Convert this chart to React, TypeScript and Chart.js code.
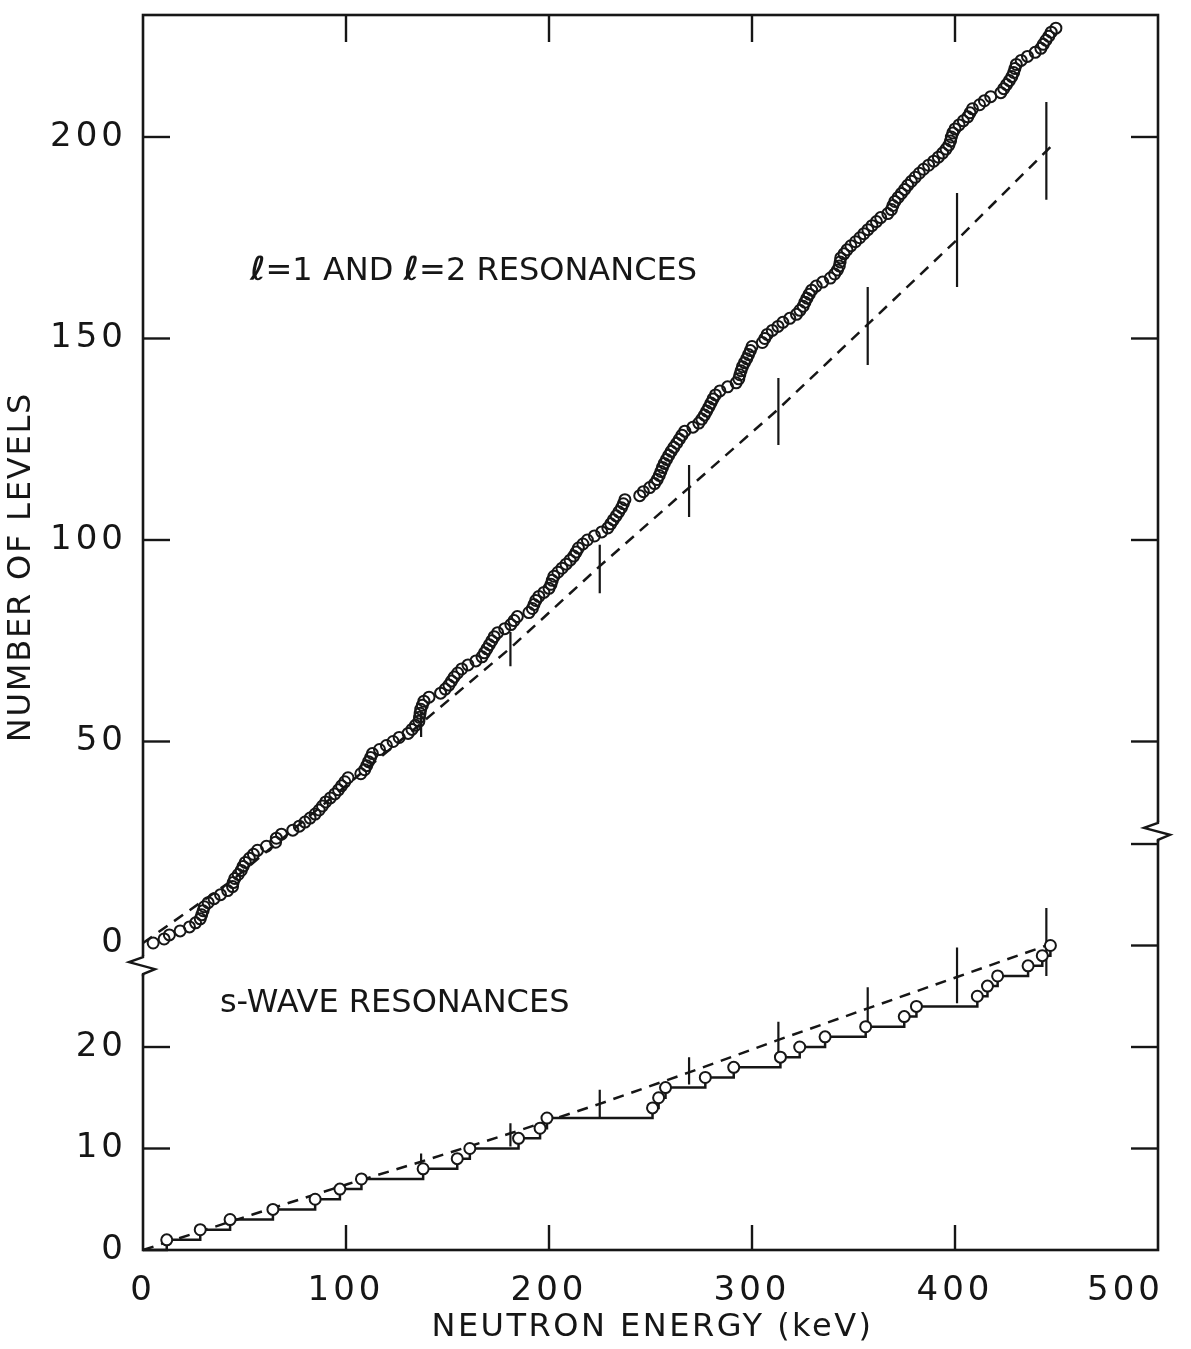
import React, { useEffect, useRef } from 'react';
import { Chart, registerables } from 'chart.js';

Chart.register(...registerables);

const INK = '#161616';
const FONT = '"DejaVu Sans", "Liberation Sans", sans-serif';

// ---- axis ticks ----
const xTickValues = [0, 100, 200, 300, 400, 500];
const xTickMarks = [100, 200, 300, 400];
const upperTickLabels = [0, 50, 100, 150, 200];
const lowerTickLabels = [0, 10, 20];
const leftUpperTickMarks = [50, 100, 150, 200];
const leftLowerTickMarks = [10, 20];
const rightUpperTickMarks = [50, 100, 150, 200];
const rightLowerTickMarks = [10, 20, 30, 40];

// ---- scale ranges (upper: l=1,2 panel; lower: s-wave panel) ----
const UPPER_MIN = -5.46;
const UPPER_MAX = 230.27;
const LOWER_MIN = 0;
const LOWER_MAX = 28.08;
const LEFT_BREAK_UPPER = -5.5; // axis break on left (upper-scale units)
const RIGHT_BREAK_LOWER = 41.3; // axis break on right (lower-scale units)

// ---- l=1 and l=2 resonances: energy (keV) of each successive level (level 0,1,2,...) ----
const upperEnergies = [
  5, 10.4, 13, 18.3, 22.9, 25.9, 28.2, 28.9, 29.6, 30.2,
  32.1, 35, 38.2, 41.7, 44.1, 44.4, 45.2, 46.9, 48.4, 49.3,
  50.4, 52.4, 54.4, 56.4, 60.8, 65.3, 65.7, 68.2, 73.8, 77,
  79.8, 82.3, 84.8, 86.8, 88.4, 90, 92.3, 94.5, 96.3, 97.8,
  99.4, 101, 107.3, 109.2, 110.2, 111.1, 112.1, 113, 116.5, 119.9,
  123.2, 126.2, 130.6, 132.5, 134.2, 135.9, 136.2, 136.5, 136.8, 137.6,
  138.4, 140.9, 146.6, 148.9, 150.7, 152, 153.3, 155, 157, 160.1,
  164, 167, 168.2, 169.4, 170.6, 171.8, 173, 174.7, 178.2, 181.2,
  182.8, 184.4, 190.1, 191.8, 192.6, 193.5, 195, 197.5, 200, 201,
  201.6, 202.4, 204.4, 206.4, 208.4, 210.4, 212.2, 213.4, 214.5, 216.7,
  218.9, 222.4, 226, 229, 230.4, 231.7, 233.1, 234.4, 235.7, 236.6,
  237.4, 244.7, 246.5, 249.6, 252, 253.3, 254.3, 255.1, 255.9, 256.8,
  257.9, 259, 260.2, 261.5, 262.9, 264.2, 265.5, 266.9, 270.9, 273.8,
  275.3, 276.6, 277.7, 278.8, 279.8, 280.8, 282, 284.2, 288, 292.2,
  293.5, 294, 294.6, 295.3, 296.3, 297.4, 298.3, 299.2, 300, 305.1,
  306.3, 307.5, 310, 312.8, 315.2, 318.6, 321.9, 323.6, 325.2, 326.1,
  327.1, 328.2, 329.4, 331.6, 334.8, 338.6, 340.7, 342.1, 343, 343.4,
  343.7, 345.3, 346.8, 348.7, 351, 353.1, 355.1, 357.1, 359.1, 361.3,
  363.4, 366.9, 368.7, 369.4, 370.4, 372, 373.6, 375.2, 376.7, 378.5,
  380.4, 382.4, 384.5, 387, 389.5, 391.8, 393.9, 395.6, 397, 397.8,
  398.2, 398.9, 400, 402, 404.1, 406.3, 407.4, 408.6, 412.1, 414.5,
  417.6, 422.6, 424, 425.4, 426.8, 428, 428.9, 429.5, 430.2, 432.6,
  435.7, 439.5, 442.3, 443.5, 444.8, 446.2, 447.4, 449.7,
];
const UPPER_FIRST_LEVEL = 0;

// ---- s-wave resonances: energy (keV) of levels 1..30 ----
const lowerEnergies = [
  11.7, 28.2, 42.9, 64, 84.8, 97, 107.6, 138, 154.8, 161,
  185, 195.6, 199, 251, 254, 257.4, 277, 291, 314, 323.5,
  336, 356, 375, 381, 411, 416, 421, 436, 443, 447,
];
const LOWER_FIRST_LEVEL = 1;

// ---- expected (dashed) curves ----
const upperTheoryE = [0, 44, 137, 181, 225, 269, 313, 357, 401, 445, 448];
const upperTheoryN = [0, 15.6, 54.5, 73.2, 93.5, 113, 132.5, 153.5, 174.5, 196.5, 198];
const lowerTheoryE = [0, 54, 101, 137, 181, 225, 269, 313, 357, 401, 445];
const lowerTheoryN = [0, 3.5, 6.5, 8.7, 11.5, 14.4, 17.5, 20.7, 23.8, 26.9, 30];

// ---- error bars on expected curves ----
const errE = [137, 181, 225, 269, 313, 357, 401, 445];
const upperErrLo = [51.1, 68.7, 86.8, 105.7, 123.6, 143.4, 162.8, 184.4];
const upperErrHi = [57.3, 77.2, 98.8, 118.6, 140.2, 162.8, 186.1, 208.7];
const lowerErrLo = [7.6, 10.2, 13.1, 16.3, 19.5, 21.5, 24.3, 27];
const lowerErrHi = [9.5, 12.5, 15.8, 19, 22.5, 25.9, 29.8, 33.7];

// ---- texts ----
const upperLabelPos = { x: 52.7, y: 166.7 };
const lowerLabelPos = { x: 37.9, y: 24.3 };
const lowerLabelText = 's-WAVE RESONANCES';
const yTitle = 'NUMBER OF LEVELS';
const xTitle = 'NEUTRON ENERGY (keV)';

const TICK = 27;

function errData(lo: number[], hi: number[]) {
  const out: any[] = [];
  errE.forEach((e, i) => {
    out.push({ x: e, y: lo[i] });
    out.push({ x: e, y: hi[i] });
    out.push({ x: e, y: null });
  });
  return out;
}

const decorPlugin = {
  id: 'decor',
  beforeDraw(chart: any) {
    const ctx = chart.ctx;
    ctx.save();
    ctx.fillStyle = '#ffffff';
    ctx.fillRect(0, 0, chart.width, chart.height);
    ctx.restore();
    ctx.letterSpacing = '4px';
  },
  afterDraw(chart: any) {
    const ctx = chart.ctx;
    const { left, right, top, bottom } = chart.chartArea;
    const xs = chart.scales.x;
    const yU = chart.scales.yU;
    const yL = chart.scales.yL;
    ctx.save();
    ctx.letterSpacing = '0px';
    ctx.strokeStyle = INK;
    ctx.lineWidth = 2.6;
    ctx.strokeRect(left, top, right - left, bottom - top);
    const seg = (x1: number, y1: number, x2: number, y2: number) => {
      ctx.beginPath();
      ctx.moveTo(x1, y1);
      ctx.lineTo(x2, y2);
      ctx.stroke();
    };
    ctx.lineWidth = 2.4;
    xTickMarks.forEach((v) => {
      const px = xs.getPixelForValue(v);
      seg(px, top, px, top + TICK);
      seg(px, bottom, px, bottom - TICK + 2);
    });
    leftUpperTickMarks.forEach((v) => {
      const py = yU.getPixelForValue(v);
      seg(left, py, left + TICK, py);
    });
    leftLowerTickMarks.forEach((v) => {
      const py = yL.getPixelForValue(v);
      seg(left, py, left + TICK, py);
    });
    rightUpperTickMarks.forEach((v) => {
      const py = yU.getPixelForValue(v);
      seg(right, py, right - TICK, py);
    });
    rightLowerTickMarks.forEach((v) => {
      const py = yL.getPixelForValue(v);
      seg(right, py, right - TICK, py);
    });
    // axis breaks
    const drawBreak = (x0: number, yc: number) => {
      ctx.fillStyle = '#ffffff';
      ctx.fillRect(x0 - 3, yc - 9, 6, 18);
      ctx.beginPath();
      ctx.moveTo(x0, yc - 10);
      ctx.lineTo(x0, yc - 8);
      ctx.lineTo(x0 - 14, yc - 3);
      ctx.lineTo(x0 + 12, yc + 4);
      ctx.lineTo(x0, yc + 9);
      ctx.lineTo(x0, yc + 11);
      ctx.lineWidth = 2.4;
      ctx.stroke();
    };
    drawBreak(left, yU.getPixelForValue(LEFT_BREAK_UPPER));
    drawBreak(right, yL.getPixelForValue(RIGHT_BREAK_LOWER));

    // x label 500 kept inside the picture (right aligned at frame edge)
    ctx.fillStyle = INK;
    ctx.letterSpacing = '4px';
    ctx.font = `34px ${FONT}`;
    ctx.textAlign = 'right';
    ctx.textBaseline = 'middle';
    ctx.fillText(String(xTickValues[xTickValues.length - 1]), right + 6, bottom + 41);

    // x title
    ctx.textAlign = 'center';
    ctx.font = `32px ${FONT}`;
    ctx.letterSpacing = '2.5px';
    ctx.fillText(xTitle, (left + right) / 2 + 2, 1328);

    // y title
    ctx.save();
    ctx.translate(22, 567);
    ctx.rotate(-Math.PI / 2);
    ctx.textAlign = 'center';
    ctx.font = `32px ${FONT}`;
    ctx.letterSpacing = '1.8px';
    ctx.fillText(yTitle, 0, 0);
    ctx.restore();

    // panel labels
    ctx.textAlign = 'left';
    ctx.textBaseline = 'middle';
    const parts: [string, string][] = [
      ['\u2113', `italic bold 33px ${FONT}`],
      ['=1 AND ', `32px ${FONT}`],
      ['\u2113', `italic bold 33px ${FONT}`],
      ['=2 RESONANCES', `32px ${FONT}`],
    ];
    let tx = xs.getPixelForValue(upperLabelPos.x);
    const ty = yU.getPixelForValue(upperLabelPos.y);
    ctx.letterSpacing = '0px';
    parts.forEach(([t, f]) => {
      ctx.font = f;
      ctx.fillText(t, tx, ty);
      tx += ctx.measureText(t).width;
    });
    ctx.font = `32px ${FONT}`;
    ctx.letterSpacing = '0px';
    ctx.fillText(lowerLabelText, xs.getPixelForValue(lowerLabelPos.x), yL.getPixelForValue(lowerLabelPos.y));
    ctx.restore();
  },
};

export default function App() {
  const ref = useRef<HTMLCanvasElement | null>(null);
  useEffect(() => {
    if (!ref.current) return;
    const upperPts = upperEnergies.map((e, i) => ({ x: e, y: UPPER_FIRST_LEVEL + i }));
    const lowerPts = lowerEnergies.map((e, i) => ({ x: e, y: LOWER_FIRST_LEVEL + i }));
    const stepPts = [{ x: 0, y: 0 }, ...lowerPts];
    const chart = new Chart(ref.current, {
      type: 'scatter',
      data: {
        datasets: [
          {
            label: 'l=1,2 levels',
            data: upperPts,
            yAxisID: 'yU',
            showLine: false,
            pointRadius: 5.5,
            pointBorderWidth: 2,
            pointBorderColor: INK,
            pointBackgroundColor: 'rgba(255,255,255,0)',
            clip: false,
            order: 2,
          },
          {
            label: 'l=1,2 expected',
            data: upperTheoryE.map((e, i) => ({ x: e, y: upperTheoryN[i] })),
            yAxisID: 'yU',
            showLine: true,
            borderColor: INK,
            borderWidth: 2.5,
            borderDash: [11, 8],
            pointRadius: 0,
            clip: false,
            order: 3,
          },
          {
            label: 'l=1,2 errors',
            data: errData(upperErrLo, upperErrHi),
            yAxisID: 'yU',
            showLine: true,
            spanGaps: false,
            borderColor: INK,
            borderWidth: 2.2,
            pointRadius: 0,
            clip: false,
            order: 3,
          },
          {
            label: 's-wave steps',
            data: stepPts,
            yAxisID: 'yL',
            showLine: true,
            stepped: 'before',
            borderColor: INK,
            borderWidth: 2.5,
            pointRadius: 0,
            clip: false,
            order: 3,
          },
          {
            label: 's-wave expected',
            data: lowerTheoryE.map((e, i) => ({ x: e, y: lowerTheoryN[i] })),
            yAxisID: 'yL',
            showLine: true,
            borderColor: INK,
            borderWidth: 2.5,
            borderDash: [11, 8],
            pointRadius: 0,
            clip: false,
            order: 3,
          },
          {
            label: 's-wave errors',
            data: errData(lowerErrLo, lowerErrHi),
            yAxisID: 'yL',
            showLine: true,
            spanGaps: false,
            borderColor: INK,
            borderWidth: 2.2,
            pointRadius: 0,
            clip: false,
            order: 3,
          },
          {
            label: 's-wave levels',
            data: lowerPts,
            yAxisID: 'yL',
            showLine: false,
            pointRadius: 5.5,
            pointBorderWidth: 2,
            pointBorderColor: INK,
            pointBackgroundColor: '#ffffff',
            clip: false,
            order: 1,
          },
        ],
      },
      options: {
        animation: false,
        responsive: false,
        devicePixelRatio: 1,
        layout: { padding: { top: 15, right: 33, left: 0, bottom: 0 } },
        plugins: { legend: { display: false }, tooltip: { enabled: false } },
        scales: {
          x: {
            type: 'linear',
            position: 'bottom',
            min: 0,
            max: 500,
            afterBuildTicks: (s: any) => {
              s.ticks = xTickValues.map((v) => ({ value: v }));
            },
            afterFit: (s: any) => {
              s.height = 99;
              s.paddingLeft = 0;
              s.paddingRight = 0;
            },
            grid: { display: false, drawTicks: false },
            border: { display: false },
            ticks: {
              autoSkip: false,
              maxRotation: 0,
              padding: 21,
              color: INK,
              font: { family: FONT, size: 34 },
              callback: (v: any) => (v === xTickValues[xTickValues.length - 1] ? '' : String(v)),
            },
            title: { display: false },
          },
          yU: {
            type: 'linear',
            position: 'left',
            stack: 'left',
            stackWeight: 950,
            weight: 1,
            min: UPPER_MIN,
            max: UPPER_MAX,
            afterBuildTicks: (s: any) => {
              s.ticks = upperTickLabels.map((v) => ({ value: v }));
            },
            afterFit: (s: any) => {
              s.width = 143;
              s.paddingTop = 0;
              s.paddingBottom = 0;
            },
            grid: { display: false, drawTicks: false },
            border: { display: false },
            ticks: { autoSkip: false, padding: 16, color: INK, font: { family: FONT, size: 34 } },
          },
          yL: {
            type: 'linear',
            position: 'left',
            stack: 'left',
            stackWeight: 285,
            weight: 0,
            min: LOWER_MIN,
            max: LOWER_MAX,
            afterBuildTicks: (s: any) => {
              s.ticks = lowerTickLabels.map((v) => ({ value: v }));
            },
            afterFit: (s: any) => {
              s.width = 143;
              s.paddingTop = 0;
              s.paddingBottom = 0;
            },
            grid: { display: false, drawTicks: false },
            border: { display: false },
            ticks: { autoSkip: false, padding: 16, color: INK, font: { family: FONT, size: 34 } },
          },
        },
      },
      plugins: [decorPlugin],
    } as any);
    return () => chart.destroy();
  }, []);

  return (
    <div style={{ position: 'absolute', left: 0, top: 0, width: 1191, height: 1349, background: '#fff' }}>
      <canvas ref={ref} width={1191} height={1349} style={{ display: 'block', width: 1191, height: 1349 }} />
    </div>
  );
}
